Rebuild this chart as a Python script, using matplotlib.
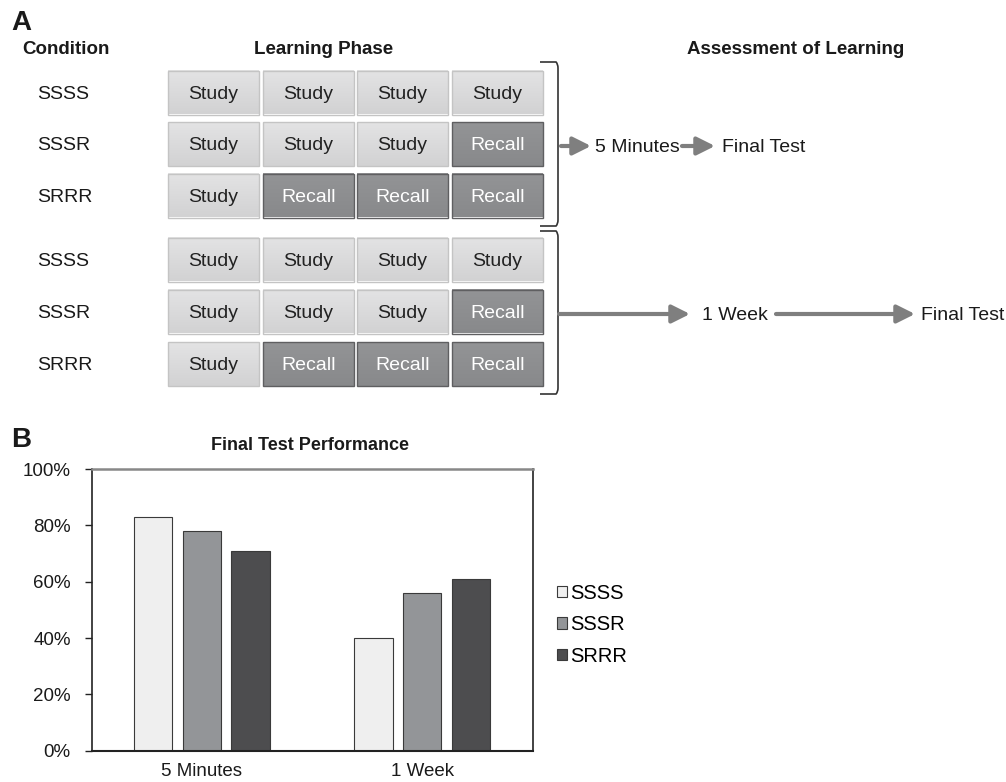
import matplotlib
matplotlib.use("Agg")
import matplotlib.pyplot as plt
import numpy as np
from matplotlib.patches import Rectangle
from matplotlib.path import Path
from matplotlib.patches import PathPatch
from matplotlib.colors import LinearSegmentedColormap

plt.rcParams['font.family'] = ['Liberation Sans', 'DejaVu Sans']

# ---- data ----
conditions = ["SSSS", "SSSR", "SRRR"]
delays = ["5 Minutes", "1 Week"]
scores_ssss = [83, 40]
scores_sssr = [78, 56]
scores_srrr = [71, 61]
yticks = [0, 20, 40, 60, 80, 100]
ytick_labels = ["0%", "20%", "40%", "60%", "80%", "100%"]

W, H = 1006, 782
fig = plt.figure(figsize=(W / 100, H / 100), dpi=100)

# ---- Panel A (pixel-space overlay) ----
axA = fig.add_axes([0, 0, 1, 1])
axA.set_xlim(0, W)
axA.set_ylim(H, 0)
axA.axis('off')

axA.text(11, 23, "A", fontsize=20, fontweight='bold', va='center', ha='left', color='#1a1a1a')
axA.text(22, 50, "Condition", fontsize=13.5, fontweight='bold', va='center', ha='left', color='#1a1a1a')
axA.text(324, 50, "Learning Phase", fontsize=13.5, fontweight='bold', va='center', ha='center', color='#1a1a1a')
axA.text(796, 50, "Assessment of Learning", fontsize=13.5, fontweight='bold', va='center', ha='center', color='#1a1a1a')

col_left = [168, 263, 357, 452]
box_w, box_h = 91, 44
block_rows = [[92.5, 144, 195.5], [259.5, 311.5, 364]]

study_grad = np.linspace(0, 1, 50).reshape(-1, 1)
study_cmap = LinearSegmentedColormap.from_list('s', ['#e3e3e4', '#d2d2d3'])
recall_cmap = LinearSegmentedColormap.from_list('r', ['#939496', '#88898b'])

for rows in block_rows:
    for cond, yc in zip(conditions, rows):
        axA.text(37, yc + 2, cond, fontsize=14, va='center', ha='left', color='#1a1a1a')
        for j, letter in enumerate(cond):
            x0 = col_left[j]
            y0 = yc - box_h / 2
            is_study = letter == "S"
            axA.imshow(study_grad, cmap=study_cmap if is_study else recall_cmap,
                       extent=(x0, x0 + box_w, y0 + box_h, y0), aspect='auto', zorder=1)
            axA.add_patch(Rectangle((x0, y0), box_w, box_h, fill=False,
                                    ec='#c4c4c4' if is_study else '#5f5f61', lw=1.0, zorder=2))
            axA.text(x0 + box_w / 2, yc + 2, "Study" if is_study else "Recall",
                     fontsize=14, va='center', ha='center',
                     color='#222222' if is_study else 'white', zorder=3)

# brackets
def bracket(top, bottom, x=558, xl=540):
    verts = [(xl, top), (x - 2, top), (x, top + 2), (x, top + 6),
             (x, bottom - 6), (x, bottom - 2), (x - 2, bottom), (xl, bottom)]
    codes = [Path.MOVETO, Path.LINETO, Path.CURVE3, Path.CURVE3,
             Path.LINETO, Path.CURVE3, Path.CURVE3, Path.LINETO]
    axA.add_patch(PathPatch(Path(verts, codes), fill=False, ec='#333333', lw=1.2))

bracket(62, 226)
bracket(231, 394)

arrow_kw = dict(arrowstyle='-|>,head_length=0.9,head_width=0.45', lw=3.0, color='#7f7f7f',
                shrinkA=0, shrinkB=0, mutation_scale=12)
axA.annotate("", xy=(591, 146), xytext=(561, 146), arrowprops=arrow_kw)
axA.text(595, 147, "5 Minutes", fontsize=14, va='center', ha='left', color='#1a1a1a')
axA.annotate("", xy=(715, 146), xytext=(682, 146), arrowprops=arrow_kw)
axA.text(722, 147, "Final Test", fontsize=14, va='center', ha='left', color='#1a1a1a')

axA.annotate("", xy=(690, 314), xytext=(559, 314), arrowprops=arrow_kw)
axA.text(702, 315, "1 Week", fontsize=14, va='center', ha='left', color='#1a1a1a')
axA.annotate("", xy=(915, 314), xytext=(776, 314), arrowprops=arrow_kw)
axA.text(921, 315, "Final Test", fontsize=14, va='center', ha='left', color='#1a1a1a')

axA.text(11, 440, "B", fontsize=20, fontweight='bold', va='center', ha='left', color='#1a1a1a')
axA.text(310, 445, "Final Test Performance", fontsize=13, fontweight='bold', va='center', ha='center', color='#1a1a1a')

# ---- Panel B ----
left, right, top, bottom = 91.5, 532.5, 469, 750.7
axB = fig.add_axes([left / W, (H - bottom) / H, (right - left) / W, (bottom - top) / H])
x = np.arange(len(delays))
bw = 0.174
sp = 0.221
series = [("SSSS", scores_ssss, '#efefef'), ("SSSR", scores_sssr, '#939598'), ("SRRR", scores_srrr, '#4d4d4f')]
handles = []
for k, (name, vals, col) in enumerate(series):
    b = axB.bar(x + (k - 1) * sp, vals, bw, color=col, edgecolor='#3a3a3a', lw=0.8, label=name, zorder=2)
    handles.append(b)
axB.set_xlim(-0.5, 1.5)
axB.set_ylim(0, 100)
axB.set_yticks(yticks)
axB.set_yticklabels(ytick_labels, fontsize=13.5, color='#1a1a1a')
axB.set_xticks(x)
axB.set_xticklabels(delays, fontsize=13.5, color='#1a1a1a')
axB.tick_params(axis='x', length=0, pad=9)
axB.tick_params(axis='y', length=5, width=1, direction='out', pad=10, color='#222222')
for s in ['left', 'bottom', 'right']:
    axB.spines[s].set_color('#222222')
    axB.spines[s].set_linewidth(1.5)
axB.spines['left'].set_linewidth(1.2)
axB.spines['right'].set_linewidth(1.2)
axB.spines['top'].set_color('#888888')
axB.spines['top'].set_linewidth(1.8)

leg = axB.legend(handles=handles, labels=[s[0] for s in series], loc='center left',
                 bbox_to_anchor=(1.056, 0.447), frameon=False, fontsize=14.5,
                 handlelength=0.5, handleheight=0.5, handletextpad=0.15, labelspacing=0.62,
                 borderaxespad=0, borderpad=0)

fig.savefig("out.png", dpi=100)
